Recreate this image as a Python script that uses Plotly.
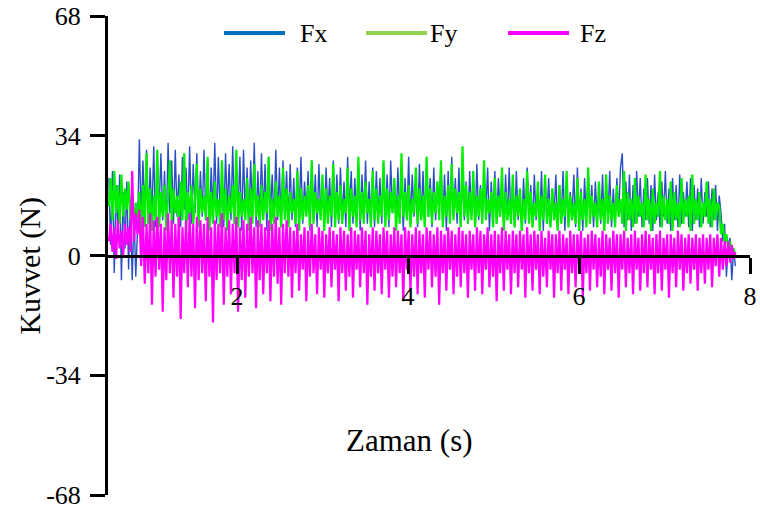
import plotly.graph_objects as go

# ---- data ----
T0 = 0.5      # first sample time (s)
DT = 0.021    # sample spacing (s)

Fx = [
    22, 3, 24, -5, 20, 6, 23, -7, 18, 2, 21, -4, 16, -7, 12, -6, 8, 33, 10, 27, 12, 30, 9, 25, 11,
    31, 8, 26, 13, 29, 10, 24, 7, 32, 12, 27, 9, 30, 11, 23, 8, 28, 13, 25, 10, 31, 9, 26, 12, 29,
    8, 24, 11, 30, 10, 27, 7, 25, 12, 32, 9, 28, 11, 23, 8, 29, 13, 26, 10, 31, 9, 24, 12, 28, 7,
    30, 11, 25, 9, 27, 12, 32, 8, 24, 10, 29, 11, 26, 7, 28, 12, 23, 9, 30, 10, 25, 8, 27, 11, 24,
    9, 26, 10, 22, 8, 25, 11, 28, 9, 21, 12, 24, 7, 27, 10, 23, 8, 26, 11, 20, 9, 25, 12, 22, 8,
    27, 10, 23, 9, 25, 11, 21, 8, 28, 12, 24, 9, 22, 10, 26, 7, 23, 11, 27, 9, 21, 10, 25, 8, 24,
    11, 22, 9, 26, 10, 23, 8, 27, 12, 21, 9, 25, 11, 24, 7, 22, 10, 28, 9, 23, 11, 20, 8, 26, 10,
    24, 9, 27, 11, 22, 8, 25, 10, 21, 12, 26, 9, 23, 7, 24, 10, 28, 11, 22, 9, 25, 8, 23, 10, 21,
    9, 24, 11, 22, 8, 26, 10, 20, 9, 23, 12, 25, 7, 21, 10, 24, 9, 22, 11, 19, 8, 23, 10, 25, 9,
    21, 8, 24, 10, 19, 7, 22, 9, 25, 11, 20, 8, 23, 10, 18, 9, 24, 7, 21, 10, 22, 8, 19, 11, 23,
    8, 20, 10, 24, 7, 21, 9, 18, 11, 23, 8, 25, 10, 19, 7, 22, 9, 24, 11, 20, 8, 21, 10, 18, 9,
    23, 7, 20, 10, 24, 8, 19, 9, 22, 11, 25, 29, 8, 21, 10, 23, 7, 20, 9, 24, 11, 22, 8, 19, 10,
    22, 9, 20, 7, 23, 10, 18, 8, 21, 11, 24, 9, 19, 7, 22, 10, 20, 8, 23, 9, 18, 11, 21, 8, 22,
    7, 20, 10, 19, 8, 22, 9, 18, 11, 21, 8, 19, 10, 20, 7, 17, 12, 4, 9, -6, 3, 5, -7, 2, -3,
]

Fy = [
    14, 22, 10, 24, 12, 20, 9, 23, 11, 19, 13, 21, 10, 17, 8, 15, 7, 18, 6, 20, 8, 29, 9, 19, 7,
    17, 10, 30, 8, 18, 11, 20, 7, 16, 27, 9, 19, 12, 17, 8, 21, 10, 29, 7, 18, 11, 20, 9, 16, 26,
    8, 19, 12, 17, 10, 28, 7, 18, 9, 21, 11, 16, 8, 27, 10, 19, 7, 17, 12, 20, 9, 30, 8, 18, 11,
    16, 10, 22, 7, 19, 9, 26, 11, 17, 8, 20, 10, 18, 12, 28, 7, 16, 9, 21, 11, 17, 8, 25, 10, 19,
    8, 18, 12, 16, 9, 24, 7, 19, 10, 17, 11, 20, 8, 27, 9, 18, 12, 16, 10, 23, 7, 19, 9, 17, 11,
    26, 8, 18, 10, 20, 9, 16, 12, 25, 7, 19, 11, 17, 8, 28, 10, 18, 9, 21, 12, 16, 8, 24, 10, 19,
    9, 17, 11, 27, 8, 19, 10, 18, 12, 22, 7, 17, 9, 29, 11, 18, 10, 20, 8, 16, 12, 25, 9, 19, 10,
    17, 8, 28, 11, 19, 9, 18, 12, 21, 10, 27, 8, 17, 11, 20, 9, 26, 10, 19, 12, 18, 8, 31, 11, 20,
    9, 18, 10, 24, 8, 17, 11, 19, 9, 27, 10, 16, 12, 18, 8, 22, 9, 17, 11, 25, 7, 18, 10, 16, 9,
    23, 8, 17, 11, 19, 7, 16, 10, 24, 9, 18, 8, 15, 11, 21, 7, 17, 10, 23, 9, 16, 8, 19, 10, 15,
    7, 20, 9, 16, 11, 24, 8, 17, 10, 15, 9, 22, 7, 18, 10, 16, 8, 25, 9, 17, 11, 15, 8, 21, 10,
    16, 7, 23, 9, 17, 10, 15, 8, 20, 11, 16, 9, 24, 7, 18, 10, 16, 8, 22, 9, 17, 11, 15, 8, 23,
    10, 16, 7, 19, 9, 15, 11, 24, 8, 17, 10, 16, 9, 21, 7, 18, 10, 15, 8, 22, 9, 16, 11, 17, 7,
    23, 9, 16, 10, 18, 8, 15, 11, 21, 9, 16, 8, 19, 10, 15, 14, 6, 9, 4, 6, 2, 4, 0, 2, 0,
]

Fz = [
    4, 9, 1, 8, -1, 10, 2, 7, 0, 9, 3, 8, 1, 24, 4, 12, 6, 13, -3, 11, -8, 9, -5, 12, -14,
    10, -6, 11, -4, 9, -16, 8, -7, 12, -5, 10, -12, 9, -6, 11, -18, 8, -5, 10, -9, 12, -6, 9, -15, 11,
    -7, 10, -5, 9, -13, 11, -6, 8, -19, 10, -7, 9, -5, 12, -14, 8, -6, 10, -11, 9, -5, 11, -16, 8, -7,
    10, -12, 9, -6, 11, -5, 8, -15, 10, -7, 9, -11, 8, -5, 10, -13, 9, -6, 11, -8, 8, -14, 9, -5, 10,
    -6, 8, -12, 7, -5, 9, -10, 6, -4, 8, -13, 7, -6, 9, -5, 6, -11, 8, -4, 7, -12, 6, -5, 8, -9,
    7, -4, 6, -13, 8, -5, 7, -10, 6, -6, 8, -12, 7, -4, 6, -9, 8, -5, 7, -14, 6, -6, 8, -10, 7,
    -5, 6, -11, 8, -4, 7, -12, 6, -6, 8, -9, 7, -5, 6, -13, 8, -4, 7, -10, 6, -6, 8, -11, 7, -5,
    6, -12, 8, -4, 7, -9, 6, -6, 8, -14, 7, -5, 6, -10, 8, -4, 7, -11, 6, -6, 8, -9, 7, -5, 6,
    -12, 7, -4, 6, -10, 8, -5, 7, -11, 6, -4, 8, -9, 6, -6, 7, -13, 6, -5, 8, -10, 7, -4, 6, -11,
    7, -5, 6, -9, 7, -4, 6, -12, 8, -5, 6, -10, 7, -4, 6, -11, 7, -6, 5, -9, 7, -4, 6, -12, 6,
    -5, 7, -10, 6, -4, 5, -11, 7, -5, 6, -9, 6, -4, 7, -12, 5, -5, 6, -10, 7, -4, 6, -9, 5, -6,
    7, -11, 6, -4, 5, -10, 7, -5, 6, -12, 6, -4, 7, -9, 5, -5, 6, -11, 7, -4, 5, -10, 6, -5, 7,
    -9, 6, -4, 5, -11, 6, -5, 7, -10, 5, -4, 6, -12, 6, -5, 5, -9, 7, -4, 6, -10, 5, -5, 6, -8,
    5, -4, 6, -10, 5, -5, 6, -8, 5, -4, 6, -9, 5, -3, 6, -6, 5, -4, 4, -3, 4, -2, 3, -1, 1,
]

series_names = ["Fx", "Fy", "Fz"]
line_colors = ["#2a4fc4", "#00ee00", "#ff00ff"]
line_widths = [1.4, 2.2, 2.2]
legend_colors = ["#0070c0", "#92d050", "#ff00ff"]

x_ticks = [2, 4, 6, 8]
y_ticks = [-68, -34, 0, 34, 68]
x_title = "Zaman (s)"
y_title = "Kuvvet (N)"

FONT = "Liberation Serif"

fig = go.Figure()
for name, vals, col, w in zip(series_names, [Fx, Fy, Fz], line_colors, line_widths):
    t = [T0 + DT * i for i in range(len(vals))]
    fig.add_trace(go.Scatter(x=t, y=vals, mode="lines", name=name,
                             line=dict(color=col, width=w), showlegend=False))

# manual legend (long line samples like the reference)
leg_y = 0.9644
leg_items = [(0.1807, 0.2757, 0.2960), (0.4019, 0.4969, 0.4984), (0.6231, 0.7181, 0.7321)]
for (x0, x1, xt), name, col in zip(leg_items, series_names, legend_colors):
    fig.add_shape(type="line", xref="paper", yref="paper", x0=x0, x1=x1, y0=leg_y, y1=leg_y,
                  line=dict(color=col, width=4))
    fig.add_annotation(xref="paper", yref="paper", x=xt, y=leg_y, text=name, showarrow=False,
                       xanchor="left", yanchor="middle", font=dict(family=FONT, size=26, color="black"))

fig.add_annotation(xref="paper", yref="paper", x=0.47, y=0.113, text=x_title, showarrow=False,
                   xanchor="center", yanchor="middle", font=dict(family=FONT, size=31, color="black"))
fig.add_annotation(xref="paper", yref="paper", x=-0.1215, y=0.479, text=y_title, showarrow=False,
                   textangle=-90, xanchor="center", yanchor="middle",
                   font=dict(family=FONT, size=30, color="black"))

fig.update_layout(
    width=760, height=510,
    margin=dict(l=108, r=10, t=16, b=15),
    paper_bgcolor="white", plot_bgcolor="white",
    font=dict(family=FONT, size=26, color="black"),
    showlegend=False,
    xaxis=dict(range=[0.49, 8.0], anchor="free", position=0.5, automargin=False,
               tickvals=x_ticks, ticktext=[str(v) for v in x_ticks],
               showline=True, linecolor="black", linewidth=3,
               ticks="outside", ticklen=16, tickwidth=3, tickcolor="black",
               showgrid=False, zeroline=False, ticklabelstandoff=0,
               ticklabeloverflow="allow",
               tickfont=dict(family=FONT, size=26, color="black")),
    yaxis=dict(range=[-68, 68], tickvals=y_ticks, ticktext=[str(v) for v in y_ticks],
               automargin=False,
               showline=True, linecolor="black", linewidth=3,
               ticks="outside", ticklen=15, tickwidth=3, tickcolor="black",
               showgrid=False, zeroline=False, ticklabelstandoff=4,
               ticklabeloverflow="allow",
               tickfont=dict(family=FONT, size=26, color="black")),
)

fig.write_html("out.html", config={"displayModeBar": False},
               post_script="document.body.style.margin='0';document.body.style.overflow='hidden';")
